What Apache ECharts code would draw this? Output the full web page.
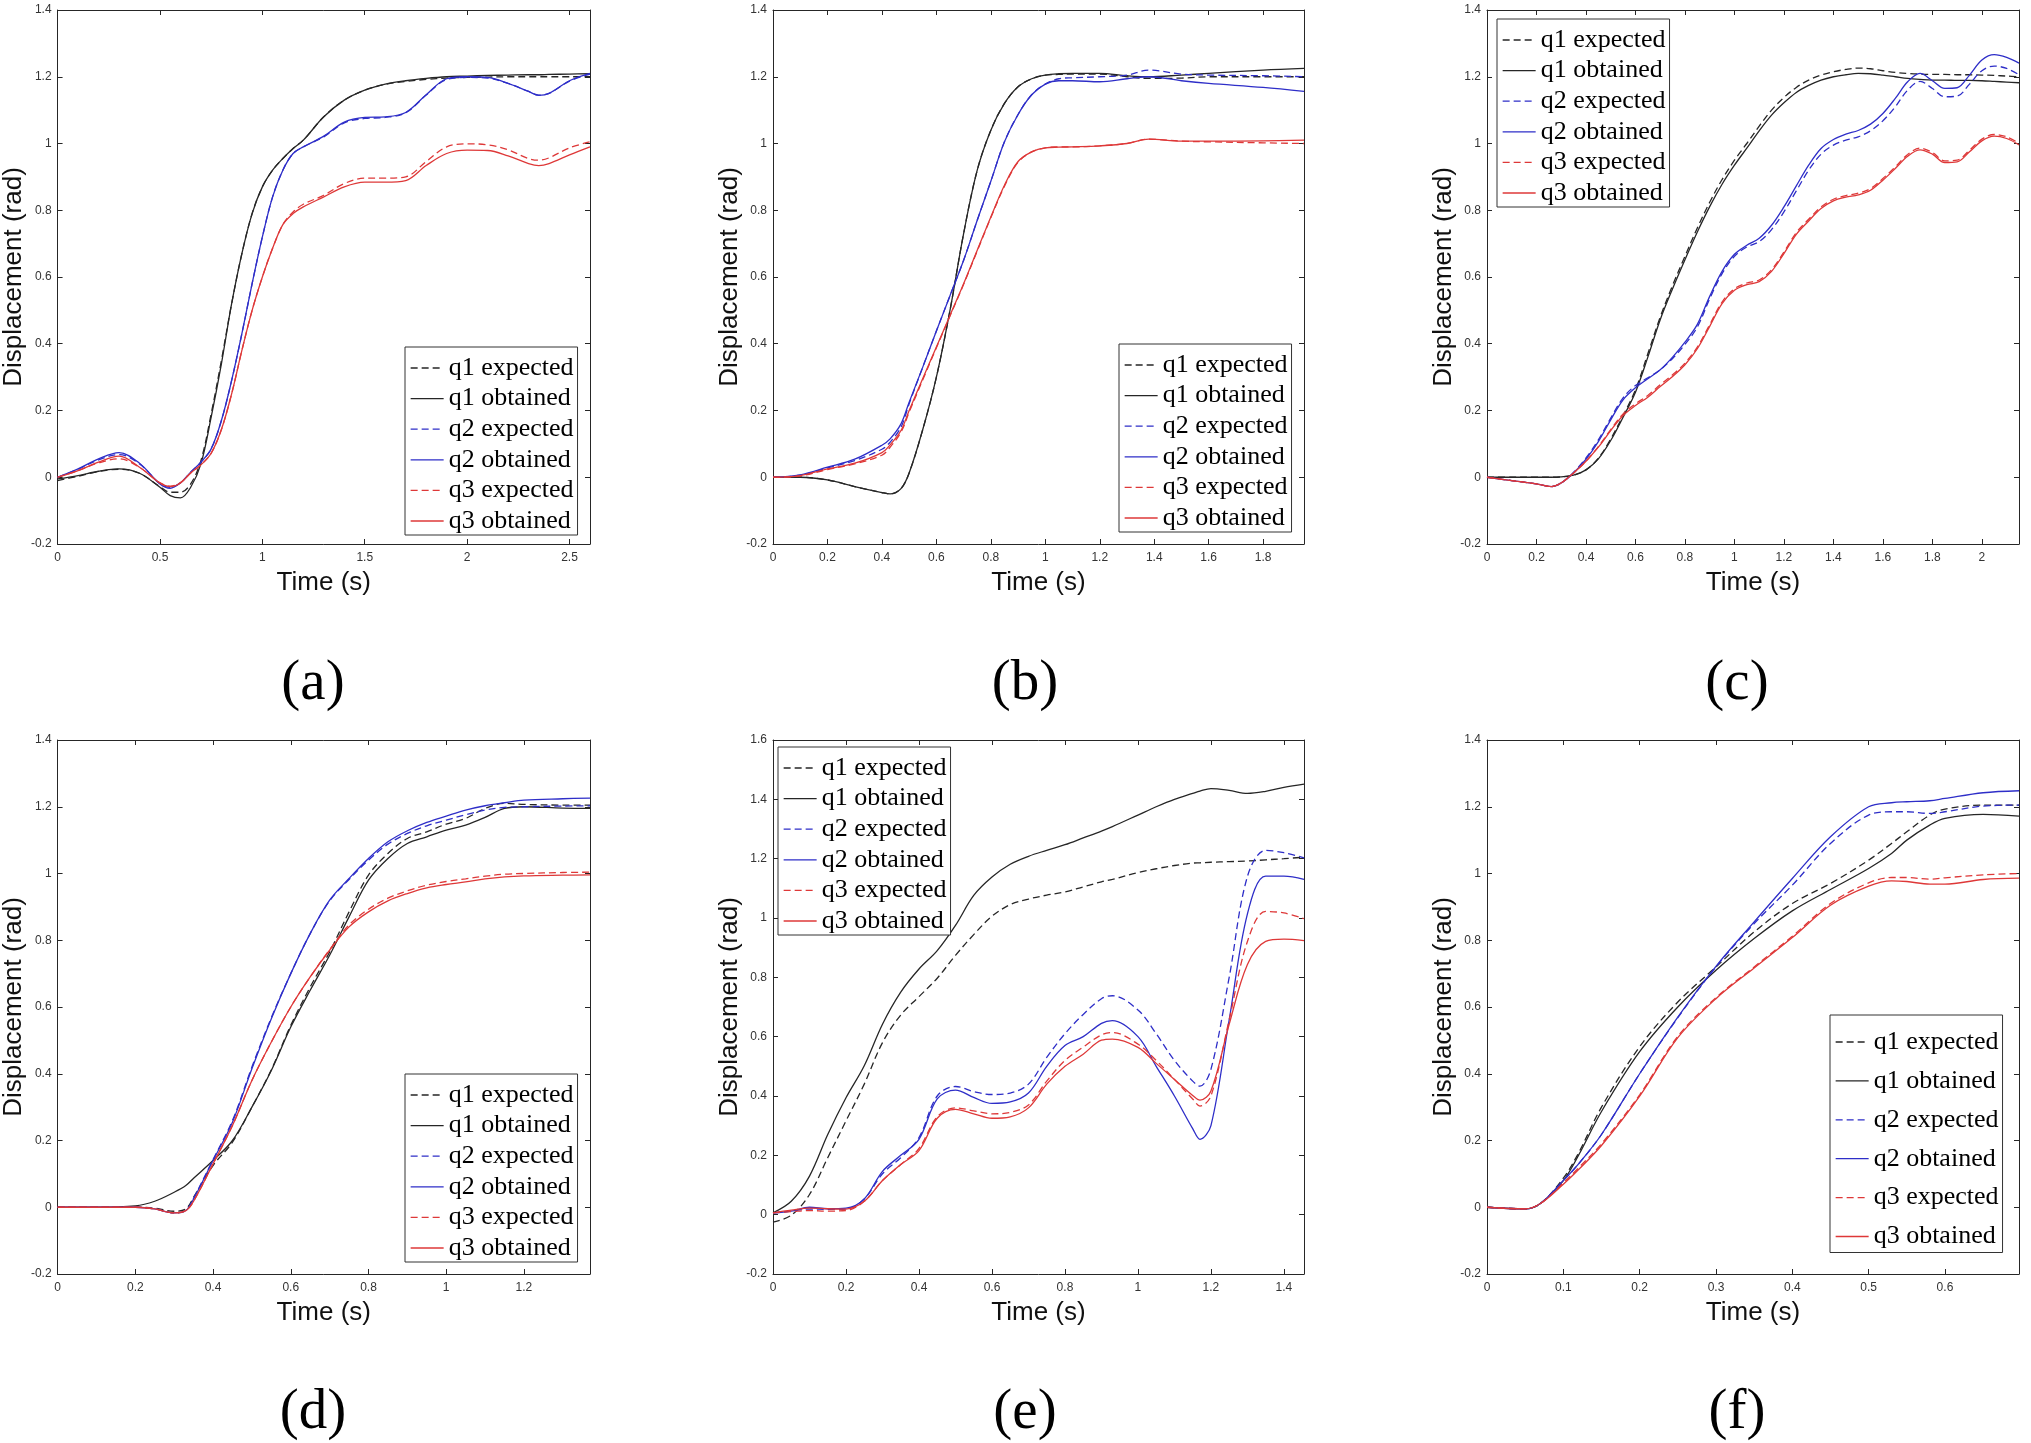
<!DOCTYPE html>
<html>
<head>
<meta charset="utf-8">
<script src="https://cdn.jsdelivr.net/npm/echarts@6/dist/echarts.min.js"></script>
<style>
html,body{margin:0;padding:0;background:#fff;}
#chart{width:2031px;height:1443px;}
</style>
</head>
<body>
<div id="chart"></div>
<script>
// ---------------- DATA ----------------
const seriesNames = ['q1 expected','q1 obtained','q2 expected','q2 obtained','q3 expected','q3 obtained'];
const panelLabels = ['(a)','(b)','(c)','(d)','(e)','(f)'];
const xAxisTitle = 'Time (s)';
const yAxisTitle = 'Displacement (rad)';

// Panel (a)
const aTime   = [0,0.1,0.2,0.3,0.4,0.5,0.55,0.6,0.65,0.7,0.75,0.8,0.85,0.9,0.95,1.0,1.05,1.1,1.15,1.2,1.3,1.4,1.5,1.6,1.7,1.8,1.9,2.0,2.1,2.2,2.3,2.35,2.4,2.5,2.6];
const aQ1Exp  = [-0.01,0.003,0.017,0.024,0.012,-0.028,-0.045,-0.045,-0.02,0.05,0.19,0.35,0.52,0.67,0.79,0.87,0.92,0.955,0.985,1.01,1.08,1.13,1.16,1.177,1.186,1.192,1.196,1.198,1.199,1.2,1.2,1.2,1.2,1.2,1.2];
const aQ1Obt  = [-0.005,0.005,0.018,0.025,0.012,-0.03,-0.055,-0.062,-0.03,0.04,0.18,0.34,0.52,0.67,0.79,0.87,0.92,0.955,0.985,1.01,1.08,1.13,1.16,1.178,1.188,1.195,1.2,1.202,1.204,1.205,1.206,1.206,1.207,1.208,1.209];
const aQ2Exp  = [0,0.024,0.052,0.068,0.04,-0.02,-0.03,-0.016,0.015,0.045,0.085,0.17,0.29,0.43,0.58,0.72,0.84,0.92,0.97,0.99,1.02,1.062,1.075,1.078,1.092,1.145,1.192,1.198,1.196,1.18,1.156,1.145,1.15,1.187,1.208];
const aQ2Obt  = [0,0.025,0.055,0.074,0.042,-0.02,-0.033,-0.017,0.015,0.045,0.085,0.17,0.29,0.43,0.58,0.72,0.84,0.92,0.97,0.99,1.022,1.064,1.078,1.08,1.093,1.146,1.194,1.2,1.198,1.18,1.156,1.144,1.15,1.188,1.21];
const aQ3Exp  = [0,0.02,0.043,0.055,0.03,-0.017,-0.027,-0.016,0.013,0.037,0.072,0.143,0.25,0.38,0.5,0.6,0.686,0.757,0.795,0.818,0.845,0.88,0.896,0.896,0.9,0.946,0.99,0.999,0.996,0.981,0.955,0.95,0.957,0.987,1.005];
const aQ3Obt  = [0,0.02,0.045,0.063,0.03,-0.017,-0.028,-0.017,0.013,0.037,0.072,0.143,0.25,0.38,0.5,0.6,0.686,0.757,0.79,0.81,0.84,0.87,0.884,0.884,0.889,0.934,0.97,0.98,0.979,0.963,0.94,0.934,0.94,0.966,0.99];

// Panel (b)
const bTime   = [0,0.1,0.2,0.3,0.4,0.43,0.47,0.5,0.55,0.6,0.65,0.7,0.75,0.8,0.85,0.9,0.95,1.0,1.05,1.1,1.2,1.3,1.38,1.5,1.6,1.8,1.95];
const bQ1Exp  = [0,0,-0.008,-0.028,-0.046,-0.05,-0.034,0.013,0.143,0.3,0.5,0.73,0.92,1.04,1.12,1.17,1.194,1.205,1.207,1.208,1.208,1.2,1.195,1.196,1.2,1.2,1.2];
const bQ1Obt  = [0,0,-0.008,-0.028,-0.046,-0.05,-0.034,0.013,0.143,0.3,0.5,0.73,0.92,1.04,1.12,1.17,1.194,1.205,1.209,1.21,1.21,1.203,1.2,1.205,1.21,1.22,1.225];
const bQ2Exp  = [0,0.006,0.028,0.05,0.084,0.105,0.15,0.22,0.33,0.438,0.544,0.65,0.77,0.887,1.005,1.087,1.146,1.178,1.194,1.197,1.2,1.205,1.22,1.208,1.205,1.203,1.2];
const bQ2Obt  = [0,0.007,0.03,0.054,0.096,0.115,0.16,0.225,0.33,0.438,0.544,0.65,0.77,0.887,1.005,1.087,1.146,1.178,1.188,1.188,1.185,1.194,1.2,1.188,1.18,1.168,1.156];
const bQ3Exp  = [0,0.004,0.023,0.04,0.066,0.09,0.135,0.195,0.292,0.388,0.483,0.578,0.678,0.778,0.872,0.944,0.975,0.987,0.99,0.99,0.993,1.0,1.013,1.007,1.005,1.002,1.0];
const bQ3Obt  = [0,0.005,0.025,0.042,0.074,0.097,0.14,0.2,0.296,0.39,0.485,0.58,0.68,0.78,0.875,0.946,0.975,0.987,0.989,0.99,0.993,1.0,1.013,1.007,1.007,1.008,1.01];

// Panel (c)
const cTime   = [0,0.1,0.2,0.26,0.3,0.35,0.4,0.45,0.5,0.55,0.6,0.65,0.7,0.75,0.8,0.85,0.9,0.95,1.0,1.05,1.1,1.15,1.2,1.25,1.3,1.35,1.4,1.45,1.5,1.55,1.6,1.65,1.7,1.75,1.8,1.85,1.9,1.95,2.0,2.05,2.1,2.15];
const cQ1Exp  = [0,0,0,0,0.001,0.006,0.022,0.057,0.115,0.185,0.262,0.37,0.48,0.575,0.662,0.747,0.824,0.892,0.95,1.0,1.052,1.1,1.138,1.168,1.19,1.205,1.215,1.222,1.226,1.224,1.218,1.213,1.21,1.208,1.207,1.207,1.206,1.206,1.205,1.204,1.202,1.2];
const cQ1Obt  = [0,0,0,0,0.001,0.006,0.022,0.055,0.11,0.18,0.255,0.36,0.472,0.565,0.652,0.735,0.811,0.878,0.935,0.986,1.038,1.085,1.122,1.153,1.174,1.19,1.2,1.206,1.21,1.209,1.205,1.2,1.195,1.192,1.19,1.19,1.189,1.189,1.188,1.186,1.184,1.182];
const cQ2Exp  = [0,-0.01,-0.02,-0.028,-0.017,0.015,0.058,0.112,0.177,0.238,0.275,0.298,0.322,0.356,0.398,0.45,0.535,0.61,0.662,0.69,0.706,0.742,0.795,0.858,0.92,0.968,0.995,1.01,1.02,1.038,1.068,1.11,1.16,1.186,1.165,1.14,1.142,1.178,1.218,1.232,1.225,1.206];
const cQ2Obt  = [0,-0.01,-0.02,-0.028,-0.017,0.013,0.054,0.107,0.172,0.232,0.268,0.295,0.322,0.36,0.405,0.458,0.542,0.617,0.668,0.695,0.716,0.755,0.81,0.873,0.935,0.985,1.012,1.028,1.039,1.058,1.09,1.135,1.185,1.21,1.188,1.165,1.167,1.205,1.25,1.266,1.258,1.241];
const cQ3Exp  = [0,-0.01,-0.02,-0.028,-0.017,0.013,0.048,0.092,0.143,0.19,0.22,0.245,0.277,0.307,0.342,0.39,0.457,0.525,0.565,0.582,0.591,0.622,0.675,0.733,0.773,0.81,0.833,0.844,0.851,0.865,0.895,0.93,0.967,0.986,0.973,0.948,0.95,0.98,1.013,1.027,1.02,1.001];
const cQ3Obt  = [0,-0.01,-0.02,-0.028,-0.017,0.013,0.048,0.09,0.14,0.185,0.215,0.24,0.272,0.302,0.337,0.385,0.452,0.52,0.56,0.577,0.586,0.617,0.67,0.728,0.768,0.805,0.828,0.839,0.846,0.86,0.89,0.925,0.962,0.981,0.968,0.943,0.945,0.975,1.008,1.022,1.015,0.996];

// Panel (d)
const dTime   = [0,0.1,0.2,0.25,0.3,0.33,0.35,0.4,0.45,0.5,0.55,0.6,0.65,0.7,0.75,0.8,0.85,0.9,0.95,1.0,1.05,1.1,1.15,1.2,1.3,1.37];
const dQ1Exp  = [0,0,0,-0.003,-0.012,-0.005,0.03,0.125,0.195,0.3,0.412,0.545,0.66,0.765,0.885,0.995,1.06,1.105,1.125,1.148,1.165,1.195,1.21,1.207,1.205,1.205];
const dQ1Obt  = [0,0,0.004,0.018,0.045,0.065,0.087,0.14,0.2,0.3,0.41,0.54,0.65,0.755,0.87,0.98,1.045,1.09,1.11,1.13,1.145,1.168,1.195,1.2,1.196,1.195];
const dQ2Exp  = [0,0,0,-0.005,-0.017,-0.01,0.027,0.143,0.26,0.42,0.568,0.7,0.82,0.918,0.982,1.04,1.088,1.12,1.143,1.16,1.176,1.19,1.198,1.2,1.202,1.203];
const dQ2Obt  = [0,0,0,-0.005,-0.017,-0.01,0.025,0.14,0.255,0.415,0.565,0.7,0.82,0.92,0.985,1.045,1.095,1.128,1.153,1.172,1.19,1.203,1.212,1.22,1.224,1.226];
const dQ3Exp  = [0,0,0,-0.005,-0.017,-0.01,0.018,0.13,0.245,0.38,0.495,0.6,0.69,0.772,0.846,0.893,0.926,0.948,0.965,0.976,0.984,0.992,0.998,1.0,1.003,1.004];
const dQ3Obt  = [0,0,0,-0.005,-0.017,-0.01,0.018,0.13,0.245,0.38,0.495,0.6,0.69,0.77,0.84,0.885,0.918,0.94,0.957,0.967,0.975,0.984,0.99,0.993,0.995,0.996];

// Panel (e)
const eTime   = [0,0.05,0.1,0.15,0.2,0.25,0.3,0.35,0.4,0.45,0.5,0.55,0.6,0.65,0.7,0.75,0.8,0.85,0.9,0.93,1.0,1.05,1.1,1.15,1.17,1.2,1.25,1.3,1.35,1.4,1.455];
const eQ1Exp  = [-0.025,-0.002,0.068,0.192,0.316,0.44,0.58,0.673,0.735,0.797,0.874,0.944,1.006,1.045,1.064,1.077,1.088,1.105,1.122,1.13,1.153,1.166,1.177,1.185,1.186,1.188,1.19,1.192,1.196,1.2,1.205];
const eQ1Obt  = [0.006,0.045,0.13,0.27,0.394,0.502,0.642,0.75,0.828,0.89,0.975,1.076,1.138,1.181,1.208,1.228,1.247,1.27,1.293,1.308,1.347,1.375,1.4,1.42,1.428,1.436,1.43,1.42,1.427,1.44,1.451];
const eQ2Exp  = [0.006,0.012,0.019,0.018,0.019,0.053,0.138,0.192,0.26,0.4,0.432,0.415,0.405,0.41,0.44,0.53,0.61,0.675,0.728,0.738,0.69,0.61,0.52,0.45,0.433,0.49,0.8,1.14,1.228,1.22,1.203];
const eQ2Obt  = [0.006,0.012,0.025,0.02,0.022,0.053,0.146,0.2,0.254,0.39,0.42,0.395,0.375,0.38,0.41,0.5,0.57,0.6,0.645,0.654,0.6,0.5,0.4,0.29,0.254,0.3,0.657,1.014,1.141,1.141,1.13];
const eQ3Exp  = [0.006,0.01,0.014,0.012,0.014,0.045,0.115,0.169,0.223,0.33,0.36,0.35,0.34,0.345,0.37,0.45,0.52,0.565,0.606,0.614,0.575,0.52,0.456,0.39,0.366,0.4,0.657,0.921,1.022,1.017,0.998];
const eQ3Obt  = [0.006,0.015,0.022,0.02,0.019,0.045,0.115,0.169,0.216,0.325,0.355,0.34,0.325,0.33,0.36,0.44,0.5,0.541,0.588,0.592,0.564,0.51,0.456,0.402,0.386,0.417,0.642,0.843,0.921,0.929,0.924];

// Panel (f)
const fTime   = [0,0.05,0.07,0.1,0.12,0.15,0.2,0.25,0.3,0.35,0.4,0.45,0.5,0.53,0.55,0.58,0.6,0.65,0.697];
const fQ1Exp  = [0,-0.005,0.011,0.087,0.163,0.3,0.481,0.615,0.72,0.825,0.91,0.97,1.04,1.09,1.125,1.175,1.193,1.205,1.205];
const fQ1Obt  = [0,-0.005,0.011,0.08,0.156,0.287,0.466,0.6,0.71,0.805,0.888,0.952,1.015,1.06,1.1,1.145,1.165,1.177,1.172];
const fQ2Exp  = [0,-0.005,0.011,0.08,0.13,0.218,0.4,0.568,0.72,0.85,0.965,1.09,1.175,1.185,1.185,1.18,1.185,1.202,1.205];
const fQ2Obt  = [0,-0.005,0.011,0.08,0.13,0.218,0.4,0.57,0.722,0.855,0.985,1.11,1.2,1.212,1.215,1.218,1.225,1.242,1.248];
const fQ3Exp  = [0,-0.005,0.011,0.073,0.118,0.19,0.337,0.512,0.628,0.72,0.812,0.91,0.972,0.988,0.988,0.983,0.987,0.996,1.0];
const fQ3Obt  = [0,-0.005,0.011,0.069,0.113,0.185,0.333,0.508,0.625,0.717,0.808,0.905,0.962,0.978,0.976,0.968,0.968,0.982,0.986];

// x-axis extents / tick steps and y-axis extents per panel
const xMax      = [2.6, 1.95, 2.15, 1.37, 1.455, 0.697];
const xInterval = [0.5, 0.2, 0.2, 0.2, 0.2, 0.1];
const yMin      = [-0.2, -0.2, -0.2, -0.2, -0.2, -0.2];
const yMaxV     = [1.4, 1.4, 1.4, 1.4, 1.6, 1.4];

// ---------------- BUILD ----------------
const panels = [
  {t: aTime, s: [aQ1Exp, aQ1Obt, aQ2Exp, aQ2Obt, aQ3Exp, aQ3Obt]},
  {t: bTime, s: [bQ1Exp, bQ1Obt, bQ2Exp, bQ2Obt, bQ3Exp, bQ3Obt]},
  {t: cTime, s: [cQ1Exp, cQ1Obt, cQ2Exp, cQ2Obt, cQ3Exp, cQ3Obt]},
  {t: dTime, s: [dQ1Exp, dQ1Obt, dQ2Exp, dQ2Obt, dQ3Exp, dQ3Obt]},
  {t: eTime, s: [eQ1Exp, eQ1Obt, eQ2Exp, eQ2Obt, eQ3Exp, eQ3Obt]},
  {t: fTime, s: [fQ1Exp, fQ1Obt, fQ2Exp, fQ2Obt, fQ3Exp, fQ3Obt]}
];

const COLORS = ['#262626','#262626','#2e2ec8','#2e2ec8','#de3838','#de3838'];
const DASHED = [true,false,true,false,true,false];
const AXIS_COLOR = '#262626';

const colLeft  = [56, 773, 1487];
const colWidth = [534, 531, 532];
const rowTop   = [10, 740];
const plotH    = 534;

const legendPos = [
  {left: 405, top: 347, gap: 4.6, pad: [8, 4, 1, 5]},
  {left: 1119, top: 344, gap: 4.6, pad: [8, 4, 1, 5]},
  {left: 1497, top: 19, gap: 4.6, pad: [8, 4, 1, 5]},
  {left: 405, top: 1074, gap: 4.6, pad: [8, 4, 1, 5]},
  {left: 778, top: 747, gap: 4.6, pad: [8, 4, 1, 5]},
  {left: 1830, top: 1015, gap: 12.9, pad: [14, 4, 3, 5]}
];
const labelPos = [
  [313, 684], [1025, 684], [1737, 684],
  [313, 1413], [1025, 1413], [1737, 1413]
];

const grids = [], xAxes = [], yAxes = [], series = [], legends = [], graphics = [];

panels.forEach((p, i) => {
  const col = i % 3, row = Math.floor(i / 3);
  grids.push({left: colLeft[col], top: rowTop[row], width: colWidth[col], height: plotH, containLabel: false});

  const tickStyle = {show: true, inside: true, length: 5, lineStyle: {color: AXIS_COLOR, width: 1}};
  const lineSt = {show: true, onZero: false, lineStyle: {color: AXIS_COLOR, width: 1}};

  xAxes.push({
    type: 'value', gridIndex: i, position: 'bottom', min: 0, max: xMax[i], interval: xInterval[i],
    axisLine: lineSt, axisTick: tickStyle, splitLine: {show: false},
    axisLabel: {show: true, showMaxLabel: false, fontSize: 12, color: '#333', margin: 8, fontFamily: 'Liberation Sans'},
    name: xAxisTitle, nameLocation: 'middle', nameGap: 26,
    nameTextStyle: {fontSize: 26, color: '#111', fontFamily: 'Liberation Sans'}
  });
  xAxes.push({
    type: 'value', gridIndex: i, position: 'top', min: 0, max: xMax[i], interval: xInterval[i],
    axisLine: lineSt, axisTick: tickStyle, splitLine: {show: false}, axisLabel: {show: false}
  });
  yAxes.push({
    type: 'value', gridIndex: i, position: 'left', min: yMin[i], max: yMaxV[i], interval: 0.2,
    axisLine: lineSt, axisTick: tickStyle, splitLine: {show: false},
    axisLabel: {show: true, fontSize: 12, color: '#333', margin: 6, fontFamily: 'Liberation Sans'},
    name: yAxisTitle, nameLocation: 'middle', nameGap: 30,
    nameTextStyle: {fontSize: 26, color: '#111', fontFamily: 'Liberation Sans'}
  });
  yAxes.push({
    type: 'value', gridIndex: i, position: 'right', min: yMin[i], max: yMaxV[i], interval: 0.2,
    axisLine: lineSt, axisTick: tickStyle, splitLine: {show: false}, axisLabel: {show: false}
  });

  p.s.forEach((vals, k) => {
    series.push({
      type: 'line', name: seriesNames[k],
      xAxisIndex: 2 * i, yAxisIndex: 2 * i,
      data: p.t.map((x, j) => [x, vals[j]]),
      symbol: 'none', showSymbol: false, smooth: 0.35,
      lineStyle: {color: COLORS[k], width: 1.3, type: DASHED[k] ? [7, 4] : 'solid'},
      itemStyle: {color: COLORS[k]},
      emphasis: {disabled: true}, animation: false
    });
  });

  legends.push({
    orient: 'vertical', left: legendPos[i].left, top: legendPos[i].top,
    padding: legendPos[i].pad, itemGap: legendPos[i].gap, itemWidth: 33, itemHeight: 20,
    backgroundColor: '#fff', borderColor: '#333', borderWidth: 1, borderRadius: 0,
    selectedMode: false,
    itemStyle: {opacity: 0},
    textStyle: {fontFamily: 'Liberation Serif', fontSize: 26, color: '#000', lineHeight: 26},
    data: seriesNames.map((n, k) => ({
      name: n,
      lineStyle: {color: COLORS[k], width: 1.3, type: DASHED[k] ? [7, 4] : 'solid'}
    }))
  });

  graphics.push({
    type: 'text', x: labelPos[i][0], y: labelPos[i][1],
    style: {text: panelLabels[i], font: '57px "Liberation Serif"', fill: '#000', textAlign: 'center', textVerticalAlign: 'middle'}
  });
});

const chart = echarts.init(document.getElementById('chart'), null, {renderer: 'canvas'});
chart.setOption({
  backgroundColor: '#fff',
  animation: false,
  grid: grids,
  xAxis: xAxes,
  yAxis: yAxes,
  legend: legends,
  series: series,
  graphic: graphics
});
</script>
</body>
</html>
